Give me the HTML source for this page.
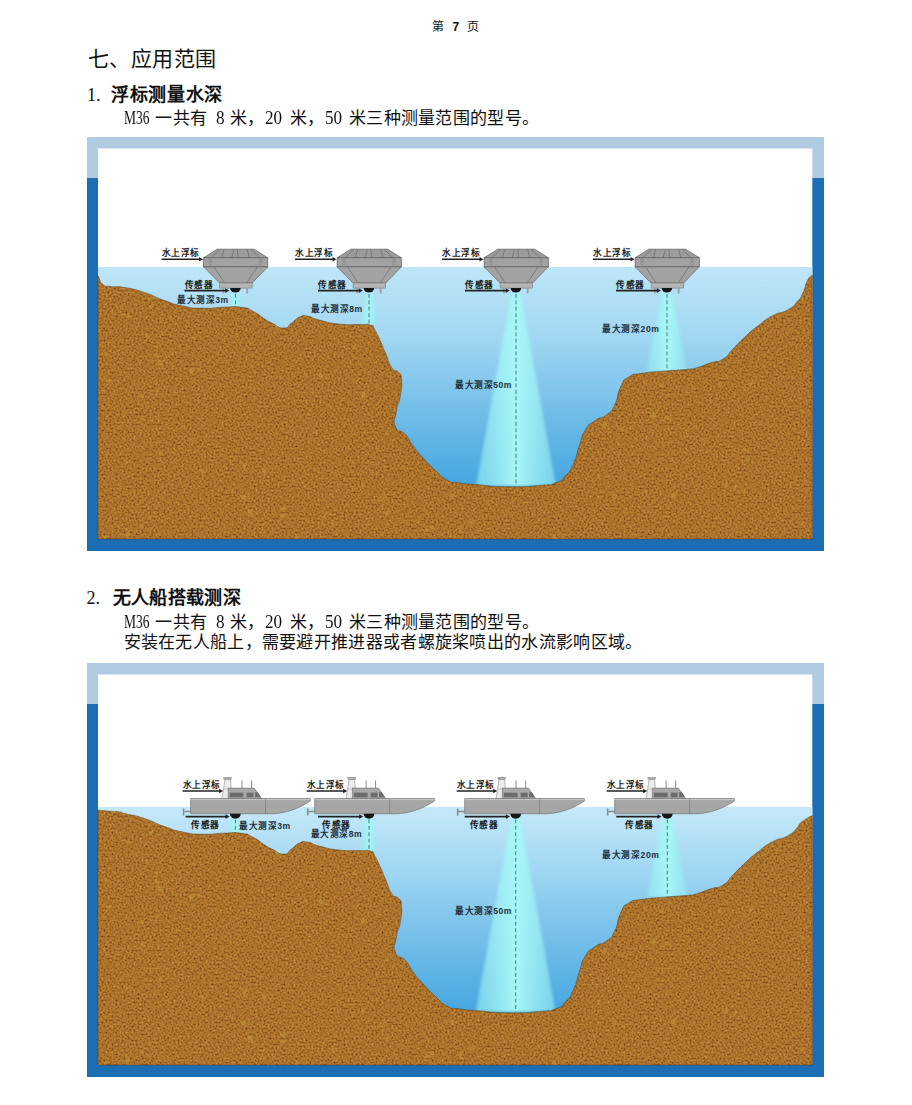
<!DOCTYPE html>
<html lang="zh-CN">
<head>
<meta charset="utf-8">
<style>
html,body{margin:0;padding:0;background:#fff;}
body{width:912px;height:1105px;position:relative;overflow:hidden;font-family:"Liberation Serif",serif;color:#111;}
.t{position:absolute;white-space:nowrap;line-height:1;}
svg{position:absolute;left:0;top:0;}
svg text{font-family:"Liberation Sans",sans-serif;}
</style>
</head>
<body>
<div class="t" style="left:431.5px;top:20.5px;font-size:12px;font-weight:normal;">第</div>
<div class="t" style="left:452.5px;top:20.5px;font-size:12px;font-weight:bold;font-family:'Liberation Sans',sans-serif;">7</div>
<div class="t" style="left:467px;top:20.5px;font-size:12px;font-weight:normal;">页</div>
<div class="t" style="left:87.5px;top:49px;font-size:21px;font-weight:normal;letter-spacing:0.6px;">七、应用范围</div>
<div class="t" style="left:87px;top:86px;font-size:18px;font-weight:normal;">1.</div>
<div class="t" style="left:111px;top:86px;font-size:18px;font-weight:bold;letter-spacing:0.7px;">浮标测量水深</div>
<div class="t" style="left:123.5px;top:108.4px;font-size:19px;transform:scaleX(0.71);transform-origin:0 0;">M36</div>
<div class="t" style="left:215.5px;top:108.4px;font-size:19px;transform:scaleX(0.9);transform-origin:0 0;">8</div>
<div class="t" style="left:265px;top:108.4px;font-size:19px;transform:scaleX(0.9);transform-origin:0 0;">20</div>
<div class="t" style="left:325px;top:108.4px;font-size:19px;transform:scaleX(0.9);transform-origin:0 0;">50</div>
<div class="t" style="left:155.3px;top:110px;font-size:17px;font-weight:normal;letter-spacing:0.3px;">一共有</div>
<div class="t" style="left:229.7px;top:110px;font-size:17px;font-weight:normal;letter-spacing:0.3px;">米，</div>
<div class="t" style="left:289.6px;top:110px;font-size:17px;font-weight:normal;letter-spacing:0.3px;">米，</div>
<div class="t" style="left:349px;top:110px;font-size:17px;font-weight:normal;letter-spacing:0.3px;">米三种测量范围的型号。</div>
<div class="t" style="left:86.5px;top:589px;font-size:18px;font-weight:normal;">2.</div>
<div class="t" style="left:112.5px;top:589px;font-size:18px;font-weight:bold;letter-spacing:0.4px;">无人船搭载测深</div>
<div class="t" style="left:123.5px;top:611.9px;font-size:19px;transform:scaleX(0.71);transform-origin:0 0;">M36</div>
<div class="t" style="left:215.5px;top:611.9px;font-size:19px;transform:scaleX(0.9);transform-origin:0 0;">8</div>
<div class="t" style="left:265px;top:611.9px;font-size:19px;transform:scaleX(0.9);transform-origin:0 0;">20</div>
<div class="t" style="left:325px;top:611.9px;font-size:19px;transform:scaleX(0.9);transform-origin:0 0;">50</div>
<div class="t" style="left:155.3px;top:613.5px;font-size:17px;font-weight:normal;letter-spacing:0.3px;">一共有</div>
<div class="t" style="left:229.7px;top:613.5px;font-size:17px;font-weight:normal;letter-spacing:0.3px;">米，</div>
<div class="t" style="left:289.6px;top:613.5px;font-size:17px;font-weight:normal;letter-spacing:0.3px;">米，</div>
<div class="t" style="left:349px;top:613.5px;font-size:17px;font-weight:normal;letter-spacing:0.3px;">米三种测量范围的型号。</div>
<div class="t" style="left:123.5px;top:633.5px;font-size:17px;font-weight:normal;letter-spacing:0.3px;">安装在无人船上，需要避开推进器或者螺旋桨喷出的水流影响区域。</div>
<svg width="912" height="1105" viewBox="0 0 912 1105">
<defs>
  <linearGradient id="water1" x1="0" y1="267" x2="0" y2="539" gradientUnits="userSpaceOnUse">
    <stop offset="0" stop-color="#bee6f8"/>
    <stop offset="0.25" stop-color="#a2d7f2"/>
    <stop offset="0.8" stop-color="#45a6df"/>
    <stop offset="1" stop-color="#3a9edb"/>
  </linearGradient>
  <linearGradient id="water2" x1="0" y1="281" x2="0" y2="539" gradientUnits="userSpaceOnUse">
    <stop offset="0" stop-color="#c6e9f9"/>
    <stop offset="0.2" stop-color="#a7daf4"/>
    <stop offset="0.8" stop-color="#45a6df"/>
    <stop offset="1" stop-color="#3a9edb"/>
  </linearGradient>
  <linearGradient id="beamg" x1="0" y1="0" x2="1" y2="0">
    <stop offset="0" stop-color="#96eaf3" stop-opacity="0.6"/>
    <stop offset="0.5" stop-color="#a6f7f6" stop-opacity="1"/>
    <stop offset="1" stop-color="#96eaf3" stop-opacity="0.6"/>
  </linearGradient>
  <filter id="blur" x="-50%" y="-10%" width="200%" height="120%"><feGaussianBlur stdDeviation="1.6"/></filter>
  <filter id="tex" x="0" y="0" width="1" height="1" color-interpolation-filters="sRGB">
    <feTurbulence type="fractalNoise" baseFrequency="0.5" numOctaves="3" seed="7"/>
    <feColorMatrix type="matrix" values="1 0 0 0 0  1 0 0 0 0  1 0 0 0 0  0 0 0 0 1"/>
    
    <feComponentTransfer>
      <feFuncR type="table" tableValues="0.31 0.38 0.51 0.61 0.67 0.72 0.77 0.80 0.80"/>
      <feFuncG type="table" tableValues="0.16 0.20 0.30 0.39 0.45 0.49 0.54 0.57 0.57"/>
      <feFuncB type="table" tableValues="0.05 0.07 0.10 0.14 0.17 0.19 0.22 0.24 0.24"/>
    </feComponentTransfer>
    <feComposite in2="SourceAlpha" operator="in"/>
  </filter>
  <path id="terrain" d="M98.0,276.0 C98.33,276.53 97.37,274.77 99.00,277.60 C100.63,280.43 98.97,281.53 102.90,284.50 C106.83,287.47 103.57,285.50 110.80,286.50 C118.03,287.50 113.43,285.53 124.60,287.50 C135.77,289.47 131.17,288.13 144.30,292.40 C157.43,296.67 150.83,295.70 164.00,300.30 C177.17,304.90 170.63,303.57 183.80,306.20 C196.97,308.83 190.33,307.87 203.50,308.20 C216.67,308.53 210.80,307.53 223.30,307.20 C235.80,306.87 231.13,305.87 241.00,307.20 C250.87,308.53 245.00,307.27 252.90,311.20 C260.80,315.13 258.40,315.07 264.70,319.00 C271.00,322.93 265.47,320.00 271.80,323.00 C278.13,326.00 277.10,328.00 283.70,328.00 C290.30,328.00 286.33,326.63 291.60,323.00 C296.87,319.37 294.23,319.40 299.50,317.10 C304.77,314.80 300.83,315.13 307.40,316.10 C313.97,317.07 308.70,317.37 319.20,320.00 C329.70,322.63 325.73,322.47 338.90,324.00 C352.07,325.53 348.17,324.27 358.70,324.60 C369.23,324.93 365.13,323.23 370.50,325.00 C375.87,326.77 371.73,325.00 374.80,329.90 C377.87,334.80 376.07,331.80 379.70,339.70 C383.33,347.60 381.73,344.37 385.70,353.60 C389.67,362.83 387.33,361.17 391.60,367.40 C395.87,373.63 395.23,368.37 398.50,372.30 C401.77,376.23 400.73,371.63 401.40,379.20 C402.07,386.77 402.13,384.47 400.50,395.00 C398.87,405.53 398.17,400.27 396.50,410.80 C394.83,421.33 392.53,418.70 395.50,426.60 C398.47,434.50 399.47,427.93 405.40,434.50 C411.33,441.07 407.37,438.43 413.30,446.30 C419.23,454.17 415.97,450.20 423.20,458.10 C430.43,466.00 427.13,462.73 435.00,470.00 C442.87,477.27 438.90,475.63 446.80,479.90 C454.70,484.17 448.17,481.17 458.70,482.80 C469.23,484.43 461.97,483.47 478.40,484.80 C494.83,486.13 487.57,486.60 508.00,486.80 C528.43,487.00 523.87,486.73 539.70,485.40 C555.53,484.07 546.93,485.97 555.50,482.80 C564.07,479.63 559.47,482.17 565.40,475.90 C571.33,469.63 568.70,473.87 573.30,464.00 C577.90,454.13 575.27,457.47 579.20,446.30 C583.13,435.13 579.83,439.03 585.10,430.50 C590.37,421.97 587.77,425.97 595.00,420.70 C602.23,415.43 600.23,419.97 606.80,414.70 C613.37,409.43 610.10,414.10 614.70,404.90 C619.30,395.70 616.00,396.33 620.60,387.10 C625.20,377.87 621.23,381.80 628.50,377.20 C635.77,372.60 629.23,375.40 642.40,373.30 C655.57,371.20 652.87,372.23 668.00,370.90 C683.13,369.57 678.67,370.20 687.80,369.30 C696.93,368.40 687.77,370.37 695.40,368.20 C703.03,366.03 701.50,365.87 710.70,362.80 C719.90,359.73 715.33,363.87 723.00,359.00 C730.67,354.13 726.03,355.87 733.70,348.20 C741.37,340.53 738.30,343.13 746.00,336.00 C753.70,328.87 748.10,333.47 756.80,326.80 C765.50,320.13 761.87,321.63 772.10,316.00 C782.33,310.37 779.30,314.50 787.50,309.90 C795.70,305.30 791.60,307.83 796.70,302.20 C801.80,296.57 799.23,300.17 802.80,293.00 C806.37,285.83 804.23,286.60 807.40,280.70 C810.57,274.80 810.67,277.10 812.30,275.30 L812.3,539 L98,539 Z"/>
  <path id="terrain2" d="M98.0,284.3 C101.90,284.60 102.50,284.67 109.70,285.20 C116.90,285.73 114.63,285.13 119.60,285.90 C124.57,286.67 116.37,285.33 124.60,287.50 C132.83,289.67 131.17,288.13 144.30,292.40 C157.43,296.67 150.83,295.70 164.00,300.30 C177.17,304.90 170.63,303.57 183.80,306.20 C196.97,308.83 190.33,307.87 203.50,308.20 C216.67,308.53 210.80,307.53 223.30,307.20 C235.80,306.87 231.13,305.87 241.00,307.20 C250.87,308.53 245.00,307.27 252.90,311.20 C260.80,315.13 258.40,315.07 264.70,319.00 C271.00,322.93 265.47,320.00 271.80,323.00 C278.13,326.00 277.10,328.00 283.70,328.00 C290.30,328.00 286.33,326.63 291.60,323.00 C296.87,319.37 294.23,319.40 299.50,317.10 C304.77,314.80 300.83,315.13 307.40,316.10 C313.97,317.07 308.70,317.37 319.20,320.00 C329.70,322.63 325.73,322.47 338.90,324.00 C352.07,325.53 348.17,324.27 358.70,324.60 C369.23,324.93 365.13,323.23 370.50,325.00 C375.87,326.77 371.73,325.00 374.80,329.90 C377.87,334.80 376.07,331.80 379.70,339.70 C383.33,347.60 381.73,344.37 385.70,353.60 C389.67,362.83 387.33,361.17 391.60,367.40 C395.87,373.63 395.23,368.37 398.50,372.30 C401.77,376.23 400.73,371.63 401.40,379.20 C402.07,386.77 402.13,384.47 400.50,395.00 C398.87,405.53 398.17,400.27 396.50,410.80 C394.83,421.33 392.53,418.70 395.50,426.60 C398.47,434.50 399.47,427.93 405.40,434.50 C411.33,441.07 407.37,438.43 413.30,446.30 C419.23,454.17 415.97,450.20 423.20,458.10 C430.43,466.00 427.13,462.73 435.00,470.00 C442.87,477.27 438.90,475.63 446.80,479.90 C454.70,484.17 448.17,481.17 458.70,482.80 C469.23,484.43 461.97,483.47 478.40,484.80 C494.83,486.13 487.57,486.60 508.00,486.80 C528.43,487.00 523.87,486.73 539.70,485.40 C555.53,484.07 546.93,485.97 555.50,482.80 C564.07,479.63 559.47,482.17 565.40,475.90 C571.33,469.63 568.70,473.87 573.30,464.00 C577.90,454.13 575.27,457.47 579.20,446.30 C583.13,435.13 579.83,439.03 585.10,430.50 C590.37,421.97 587.77,425.97 595.00,420.70 C602.23,415.43 600.23,419.97 606.80,414.70 C613.37,409.43 610.10,414.10 614.70,404.90 C619.30,395.70 616.00,396.33 620.60,387.10 C625.20,377.87 621.23,381.80 628.50,377.20 C635.77,372.60 629.23,375.40 642.40,373.30 C655.57,371.20 652.87,372.23 668.00,370.90 C683.13,369.57 678.67,370.20 687.80,369.30 C696.93,368.40 687.77,370.37 695.40,368.20 C703.03,366.03 701.50,365.87 710.70,362.80 C719.90,359.73 715.33,363.87 723.00,359.00 C730.67,354.13 726.03,355.87 733.70,348.20 C741.37,340.53 738.30,343.13 746.00,336.00 C753.70,328.87 748.10,333.47 756.80,326.80 C765.50,320.13 761.87,321.63 772.10,316.00 C782.33,310.37 779.30,314.50 787.50,309.90 C795.70,305.30 792.53,306.33 796.70,302.20 C800.87,298.07 796.43,300.83 800.00,297.50 C803.57,294.17 803.30,294.83 807.40,292.20 C811.50,289.57 810.67,290.47 812.30,289.60 L812.3,539 L98,539 Z"/>
  <clipPath id="clip_terrain"><use href="#terrain"/></clipPath>
  <clipPath id="clip_terrain2"><use href="#terrain2"/></clipPath>
</defs>
<g id="d1">
  <rect x="87" y="137" width="737" height="414" fill="#1b6db4"/>
  <rect x="87" y="137" width="737" height="41" fill="#b1cce2"/>
  <rect x="98" y="148.5" width="714.3" height="390.5" fill="#fff"/>
  <rect x="98" y="267" width="714.3" height="272" fill="url(#water1)"/>
<polygon points="231.5,293 239.5,293 242.0,308 229.0,308" fill="url(#beamg)" filter="url(#blur)"/><line x1="235.5" y1="294" x2="235.5" y2="308" stroke="#3f6870" stroke-width="0.9" stroke-dasharray="3.8,2.6"/><polygon points="365,293 373,293 377,325 361,325" fill="url(#beamg)" filter="url(#blur)"/><line x1="369" y1="294" x2="369" y2="325" stroke="#3f6870" stroke-width="0.9" stroke-dasharray="3.8,2.6"/><polygon points="511.5,293 520.5,293 556,486 476,486" fill="url(#beamg)" filter="url(#blur)"/><line x1="516" y1="294" x2="516" y2="486" stroke="#3f6870" stroke-width="0.9" stroke-dasharray="3.8,2.6"/><polygon points="662,293 672,293 687,371 647,371" fill="url(#beamg)" filter="url(#blur)"/><line x1="667" y1="294" x2="667" y2="371" stroke="#3f6870" stroke-width="0.9" stroke-dasharray="3.8,2.6"/>  <use href="#terrain" fill="#b07530" filter="url(#tex)"/>
  <g clip-path="url(#clip_terrain)" fill="#c09a3c" fill-opacity="0.55"><ellipse cx="421.0" cy="422.8" rx="3.0" ry="1.7" transform="rotate(91 421.0 422.8)"/><ellipse cx="517.4" cy="323.8" rx="2.1" ry="1.3" transform="rotate(143 517.4 323.8)"/><ellipse cx="165.2" cy="355.1" rx="1.2" ry="0.9" transform="rotate(125 165.2 355.1)"/><ellipse cx="127.9" cy="534.3" rx="3.1" ry="2.0" transform="rotate(111 127.9 534.3)"/><ellipse cx="210.5" cy="279.0" rx="2.2" ry="0.8" transform="rotate(34 210.5 279.0)"/><ellipse cx="270.7" cy="282.9" rx="2.0" ry="1.1" transform="rotate(152 270.7 282.9)"/><ellipse cx="468.7" cy="444.0" rx="2.1" ry="1.4" transform="rotate(82 468.7 444.0)"/><ellipse cx="296.6" cy="538.4" rx="3.2" ry="2.3" transform="rotate(127 296.6 538.4)"/><ellipse cx="323.1" cy="335.6" rx="1.6" ry="0.6" transform="rotate(138 323.1 335.6)"/><ellipse cx="383.9" cy="498.5" rx="1.9" ry="1.4" transform="rotate(153 383.9 498.5)"/><ellipse cx="98.4" cy="330.4" rx="3.0" ry="1.7" transform="rotate(176 98.4 330.4)"/><ellipse cx="381.8" cy="294.3" rx="2.4" ry="1.7" transform="rotate(49 381.8 294.3)"/><ellipse cx="160.2" cy="362.8" rx="3.1" ry="2.2" transform="rotate(21 160.2 362.8)"/><ellipse cx="273.9" cy="301.7" rx="1.1" ry="0.8" transform="rotate(32 273.9 301.7)"/><ellipse cx="497.3" cy="393.1" rx="1.4" ry="1.0" transform="rotate(24 497.3 393.1)"/><ellipse cx="557.6" cy="305.8" rx="1.9" ry="0.9" transform="rotate(49 557.6 305.8)"/><ellipse cx="791.2" cy="487.1" rx="1.7" ry="1.2" transform="rotate(38 791.2 487.1)"/><ellipse cx="379.5" cy="500.6" rx="2.4" ry="1.0" transform="rotate(178 379.5 500.6)"/><ellipse cx="250.3" cy="343.2" rx="2.7" ry="1.3" transform="rotate(53 250.3 343.2)"/><ellipse cx="150.4" cy="298.8" rx="2.3" ry="1.0" transform="rotate(108 150.4 298.8)"/><ellipse cx="363.4" cy="394.6" rx="3.1" ry="1.8" transform="rotate(103 363.4 394.6)"/><ellipse cx="716.7" cy="323.3" rx="1.3" ry="1.0" transform="rotate(147 716.7 323.3)"/><ellipse cx="276.1" cy="325.1" rx="2.6" ry="2.0" transform="rotate(35 276.1 325.1)"/><ellipse cx="776.4" cy="507.9" rx="2.3" ry="1.3" transform="rotate(19 776.4 507.9)"/><ellipse cx="125.6" cy="529.1" rx="1.5" ry="1.0" transform="rotate(46 125.6 529.1)"/><ellipse cx="686.1" cy="432.5" rx="1.6" ry="0.7" transform="rotate(130 686.1 432.5)"/><ellipse cx="147.1" cy="335.3" rx="2.2" ry="1.6" transform="rotate(111 147.1 335.3)"/><ellipse cx="298.1" cy="517.2" rx="1.4" ry="0.5" transform="rotate(48 298.1 517.2)"/><ellipse cx="416.2" cy="291.0" rx="1.4" ry="0.7" transform="rotate(103 416.2 291.0)"/><ellipse cx="191.9" cy="370.6" rx="3.0" ry="2.3" transform="rotate(118 191.9 370.6)"/><ellipse cx="591.5" cy="429.3" rx="1.3" ry="0.5" transform="rotate(3 591.5 429.3)"/><ellipse cx="747.9" cy="460.1" rx="3.1" ry="1.1" transform="rotate(115 747.9 460.1)"/><ellipse cx="442.3" cy="467.9" rx="1.7" ry="1.4" transform="rotate(14 442.3 467.9)"/><ellipse cx="487.9" cy="469.6" rx="3.0" ry="2.0" transform="rotate(127 487.9 469.6)"/><ellipse cx="664.4" cy="516.6" rx="1.8" ry="1.2" transform="rotate(162 664.4 516.6)"/><ellipse cx="720.0" cy="385.1" rx="2.7" ry="2.0" transform="rotate(103 720.0 385.1)"/><ellipse cx="544.2" cy="375.9" rx="2.3" ry="1.4" transform="rotate(14 544.2 375.9)"/><ellipse cx="554.5" cy="537.2" rx="2.9" ry="2.0" transform="rotate(70 554.5 537.2)"/><ellipse cx="622.8" cy="428.4" rx="2.0" ry="1.4" transform="rotate(15 622.8 428.4)"/><ellipse cx="633.7" cy="282.9" rx="2.3" ry="1.3" transform="rotate(41 633.7 282.9)"/><ellipse cx="596.6" cy="406.3" rx="2.4" ry="1.8" transform="rotate(46 596.6 406.3)"/><ellipse cx="106.1" cy="354.5" rx="2.5" ry="1.1" transform="rotate(31 106.1 354.5)"/><ellipse cx="744.7" cy="449.2" rx="2.0" ry="1.5" transform="rotate(59 744.7 449.2)"/><ellipse cx="573.5" cy="327.4" rx="1.9" ry="1.4" transform="rotate(165 573.5 327.4)"/><ellipse cx="726.5" cy="376.5" rx="2.3" ry="1.1" transform="rotate(25 726.5 376.5)"/><ellipse cx="452.5" cy="496.0" rx="2.9" ry="1.9" transform="rotate(171 452.5 496.0)"/><ellipse cx="295.6" cy="319.7" rx="2.0" ry="0.9" transform="rotate(39 295.6 319.7)"/><ellipse cx="393.6" cy="440.2" rx="2.1" ry="1.0" transform="rotate(151 393.6 440.2)"/><ellipse cx="799.2" cy="394.5" rx="1.2" ry="0.4" transform="rotate(157 799.2 394.5)"/><ellipse cx="127.6" cy="462.1" rx="2.3" ry="1.1" transform="rotate(142 127.6 462.1)"/><ellipse cx="111.6" cy="310.9" rx="2.0" ry="0.7" transform="rotate(149 111.6 310.9)"/><ellipse cx="267.5" cy="312.2" rx="1.1" ry="0.7" transform="rotate(80 267.5 312.2)"/><ellipse cx="547.8" cy="447.9" rx="2.8" ry="2.2" transform="rotate(123 547.8 447.9)"/><ellipse cx="240.3" cy="400.4" rx="1.4" ry="0.5" transform="rotate(85 240.3 400.4)"/><ellipse cx="607.9" cy="322.3" rx="1.6" ry="0.8" transform="rotate(126 607.9 322.3)"/><ellipse cx="469.6" cy="437.2" rx="2.7" ry="1.4" transform="rotate(143 469.6 437.2)"/><ellipse cx="745.1" cy="298.0" rx="3.1" ry="2.1" transform="rotate(23 745.1 298.0)"/><ellipse cx="421.8" cy="440.1" rx="3.0" ry="1.6" transform="rotate(102 421.8 440.1)"/><ellipse cx="725.8" cy="485.3" rx="3.1" ry="1.7" transform="rotate(117 725.8 485.3)"/><ellipse cx="244.3" cy="465.6" rx="2.8" ry="1.8" transform="rotate(129 244.3 465.6)"/><ellipse cx="250.3" cy="512.6" rx="3.2" ry="2.5" transform="rotate(97 250.3 512.6)"/><ellipse cx="662.6" cy="359.6" rx="3.0" ry="2.2" transform="rotate(63 662.6 359.6)"/><ellipse cx="157.1" cy="391.4" rx="2.2" ry="1.5" transform="rotate(88 157.1 391.4)"/><ellipse cx="118.3" cy="488.6" rx="1.1" ry="0.8" transform="rotate(31 118.3 488.6)"/><ellipse cx="337.2" cy="483.0" rx="1.3" ry="0.5" transform="rotate(93 337.2 483.0)"/><ellipse cx="614.6" cy="496.8" rx="2.5" ry="2.0" transform="rotate(89 614.6 496.8)"/><ellipse cx="775.7" cy="297.7" rx="1.5" ry="0.9" transform="rotate(52 775.7 297.7)"/><ellipse cx="618.4" cy="443.7" rx="2.2" ry="1.6" transform="rotate(101 618.4 443.7)"/><ellipse cx="320.6" cy="375.6" rx="2.9" ry="2.2" transform="rotate(37 320.6 375.6)"/><ellipse cx="705.5" cy="530.7" rx="2.2" ry="1.3" transform="rotate(36 705.5 530.7)"/><ellipse cx="480.6" cy="407.8" rx="2.3" ry="0.8" transform="rotate(174 480.6 407.8)"/><ellipse cx="466.4" cy="380.8" rx="2.8" ry="1.7" transform="rotate(88 466.4 380.8)"/><ellipse cx="591.4" cy="292.4" rx="2.2" ry="1.2" transform="rotate(172 591.4 292.4)"/><ellipse cx="757.3" cy="346.1" rx="2.0" ry="0.8" transform="rotate(78 757.3 346.1)"/><ellipse cx="680.4" cy="512.7" rx="2.0" ry="1.0" transform="rotate(34 680.4 512.7)"/><ellipse cx="539.2" cy="519.3" rx="1.3" ry="0.9" transform="rotate(4 539.2 519.3)"/><ellipse cx="236.6" cy="335.0" rx="2.5" ry="1.2" transform="rotate(64 236.6 335.0)"/><ellipse cx="540.5" cy="302.7" rx="2.6" ry="1.1" transform="rotate(92 540.5 302.7)"/><ellipse cx="276.9" cy="327.2" rx="2.2" ry="1.2" transform="rotate(68 276.9 327.2)"/><ellipse cx="393.2" cy="414.7" rx="1.4" ry="0.6" transform="rotate(114 393.2 414.7)"/><ellipse cx="553.9" cy="414.8" rx="2.9" ry="1.8" transform="rotate(154 553.9 414.8)"/><ellipse cx="264.1" cy="470.6" rx="2.8" ry="2.1" transform="rotate(57 264.1 470.6)"/><ellipse cx="322.9" cy="518.6" rx="1.5" ry="1.2" transform="rotate(160 322.9 518.6)"/><ellipse cx="193.6" cy="338.2" rx="2.6" ry="1.2" transform="rotate(17 193.6 338.2)"/><ellipse cx="692.2" cy="386.3" rx="2.7" ry="1.1" transform="rotate(73 692.2 386.3)"/><ellipse cx="587.2" cy="279.7" rx="1.4" ry="0.9" transform="rotate(164 587.2 279.7)"/><ellipse cx="789.4" cy="305.5" rx="2.1" ry="1.5" transform="rotate(91 789.4 305.5)"/><ellipse cx="587.6" cy="324.9" rx="1.2" ry="0.5" transform="rotate(7 587.6 324.9)"/><ellipse cx="491.9" cy="410.9" rx="2.3" ry="0.9" transform="rotate(33 491.9 410.9)"/><ellipse cx="243.6" cy="496.8" rx="3.2" ry="2.4" transform="rotate(17 243.6 496.8)"/><ellipse cx="142.2" cy="526.2" rx="2.0" ry="1.4" transform="rotate(59 142.2 526.2)"/><ellipse cx="431.4" cy="411.0" rx="1.9" ry="1.2" transform="rotate(2 431.4 411.0)"/><ellipse cx="598.5" cy="497.9" rx="1.4" ry="0.8" transform="rotate(133 598.5 497.9)"/><ellipse cx="387.4" cy="326.5" rx="1.4" ry="0.8" transform="rotate(3 387.4 326.5)"/><ellipse cx="735.7" cy="486.7" rx="2.6" ry="1.9" transform="rotate(113 735.7 486.7)"/><ellipse cx="386.8" cy="433.3" rx="2.1" ry="1.7" transform="rotate(145 386.8 433.3)"/><ellipse cx="282.4" cy="515.6" rx="2.6" ry="1.8" transform="rotate(147 282.4 515.6)"/><ellipse cx="387.6" cy="511.7" rx="2.9" ry="1.9" transform="rotate(138 387.6 511.7)"/><ellipse cx="644.4" cy="382.1" rx="2.6" ry="1.0" transform="rotate(62 644.4 382.1)"/><ellipse cx="432.8" cy="277.8" rx="1.8" ry="1.1" transform="rotate(112 432.8 277.8)"/><ellipse cx="263.7" cy="524.4" rx="2.5" ry="1.2" transform="rotate(119 263.7 524.4)"/><ellipse cx="504.7" cy="415.7" rx="1.9" ry="1.5" transform="rotate(116 504.7 415.7)"/><ellipse cx="598.7" cy="476.1" rx="3.2" ry="1.1" transform="rotate(111 598.7 476.1)"/><ellipse cx="625.5" cy="342.8" rx="1.9" ry="0.7" transform="rotate(35 625.5 342.8)"/><ellipse cx="366.2" cy="301.0" rx="1.6" ry="1.2" transform="rotate(99 366.2 301.0)"/><ellipse cx="460.6" cy="530.3" rx="2.2" ry="1.8" transform="rotate(115 460.6 530.3)"/><ellipse cx="676.0" cy="295.1" rx="2.3" ry="1.6" transform="rotate(8 676.0 295.1)"/><ellipse cx="762.1" cy="317.2" rx="2.0" ry="0.9" transform="rotate(89 762.1 317.2)"/><ellipse cx="534.4" cy="290.5" rx="3.1" ry="1.7" transform="rotate(95 534.4 290.5)"/><ellipse cx="524.9" cy="371.5" rx="1.6" ry="1.1" transform="rotate(101 524.9 371.5)"/><ellipse cx="300.4" cy="464.2" rx="1.7" ry="0.6" transform="rotate(44 300.4 464.2)"/><ellipse cx="128.5" cy="316.3" rx="2.7" ry="1.4" transform="rotate(162 128.5 316.3)"/><ellipse cx="632.3" cy="288.2" rx="3.2" ry="2.5" transform="rotate(13 632.3 288.2)"/><ellipse cx="744.6" cy="388.4" rx="2.1" ry="1.6" transform="rotate(44 744.6 388.4)"/><ellipse cx="471.7" cy="522.4" rx="2.6" ry="1.5" transform="rotate(176 471.7 522.4)"/><ellipse cx="681.1" cy="434.4" rx="1.3" ry="0.8" transform="rotate(82 681.1 434.4)"/><ellipse cx="243.4" cy="288.7" rx="2.2" ry="0.9" transform="rotate(80 243.4 288.7)"/><ellipse cx="574.9" cy="395.3" rx="1.6" ry="1.0" transform="rotate(76 574.9 395.3)"/><ellipse cx="653.5" cy="415.1" rx="3.2" ry="2.5" transform="rotate(132 653.5 415.1)"/><ellipse cx="268.2" cy="305.1" rx="3.0" ry="2.1" transform="rotate(112 268.2 305.1)"/><ellipse cx="354.5" cy="346.7" rx="2.5" ry="1.5" transform="rotate(107 354.5 346.7)"/><ellipse cx="550.0" cy="473.9" rx="1.4" ry="0.7" transform="rotate(176 550.0 473.9)"/><ellipse cx="751.8" cy="507.0" rx="1.1" ry="0.4" transform="rotate(49 751.8 507.0)"/><ellipse cx="401.6" cy="439.6" rx="1.2" ry="0.7" transform="rotate(13 401.6 439.6)"/><ellipse cx="159.7" cy="453.5" rx="2.2" ry="1.4" transform="rotate(67 159.7 453.5)"/><ellipse cx="439.7" cy="330.6" rx="1.8" ry="1.2" transform="rotate(151 439.7 330.6)"/><ellipse cx="151.1" cy="306.6" rx="2.8" ry="1.8" transform="rotate(138 151.1 306.6)"/><ellipse cx="250.2" cy="387.0" rx="1.6" ry="1.1" transform="rotate(66 250.2 387.0)"/><ellipse cx="564.7" cy="536.1" rx="1.7" ry="1.0" transform="rotate(134 564.7 536.1)"/><ellipse cx="755.5" cy="387.9" rx="1.8" ry="0.7" transform="rotate(158 755.5 387.9)"/><ellipse cx="154.1" cy="296.9" rx="2.2" ry="1.3" transform="rotate(123 154.1 296.9)"/><ellipse cx="311.4" cy="479.7" rx="1.2" ry="0.5" transform="rotate(119 311.4 479.7)"/><ellipse cx="156.3" cy="355.2" rx="2.6" ry="1.7" transform="rotate(51 156.3 355.2)"/><ellipse cx="200.0" cy="369.5" rx="2.6" ry="1.3" transform="rotate(21 200.0 369.5)"/><ellipse cx="604.4" cy="425.3" rx="3.0" ry="2.3" transform="rotate(164 604.4 425.3)"/><ellipse cx="410.7" cy="487.0" rx="1.7" ry="0.8" transform="rotate(72 410.7 487.0)"/><ellipse cx="765.4" cy="511.2" rx="1.5" ry="0.8" transform="rotate(66 765.4 511.2)"/><ellipse cx="357.4" cy="379.4" rx="1.9" ry="0.8" transform="rotate(101 357.4 379.4)"/><ellipse cx="667.1" cy="417.7" rx="2.8" ry="1.7" transform="rotate(32 667.1 417.7)"/><ellipse cx="639.9" cy="507.6" rx="1.6" ry="0.6" transform="rotate(93 639.9 507.6)"/><ellipse cx="486.5" cy="424.8" rx="3.1" ry="2.0" transform="rotate(145 486.5 424.8)"/><ellipse cx="143.7" cy="419.4" rx="2.7" ry="1.1" transform="rotate(15 143.7 419.4)"/><ellipse cx="624.3" cy="512.4" rx="1.2" ry="0.8" transform="rotate(26 624.3 512.4)"/><ellipse cx="630.5" cy="446.3" rx="1.5" ry="0.7" transform="rotate(138 630.5 446.3)"/><ellipse cx="470.4" cy="476.9" rx="1.9" ry="0.9" transform="rotate(174 470.4 476.9)"/><ellipse cx="578.1" cy="405.3" rx="2.2" ry="1.5" transform="rotate(127 578.1 405.3)"/><ellipse cx="751.3" cy="383.4" rx="2.8" ry="1.8" transform="rotate(154 751.3 383.4)"/><ellipse cx="673.4" cy="495.1" rx="3.0" ry="2.3" transform="rotate(115 673.4 495.1)"/><ellipse cx="472.0" cy="462.5" rx="2.8" ry="1.5" transform="rotate(76 472.0 462.5)"/><ellipse cx="202.4" cy="470.7" rx="3.2" ry="1.7" transform="rotate(30 202.4 470.7)"/><ellipse cx="243.9" cy="387.2" rx="1.6" ry="1.3" transform="rotate(11 243.9 387.2)"/><ellipse cx="318.2" cy="305.3" rx="2.4" ry="1.7" transform="rotate(32 318.2 305.3)"/><ellipse cx="142.5" cy="396.1" rx="2.3" ry="1.7" transform="rotate(7 142.5 396.1)"/><ellipse cx="175.6" cy="323.7" rx="1.5" ry="0.7" transform="rotate(129 175.6 323.7)"/><ellipse cx="522.7" cy="334.1" rx="1.4" ry="0.7" transform="rotate(31 522.7 334.1)"/><ellipse cx="638.9" cy="357.3" rx="2.2" ry="1.6" transform="rotate(86 638.9 357.3)"/><ellipse cx="284.0" cy="509.3" rx="3.0" ry="1.5" transform="rotate(99 284.0 509.3)"/><ellipse cx="781.3" cy="402.4" rx="1.5" ry="0.6" transform="rotate(171 781.3 402.4)"/><ellipse cx="670.2" cy="376.6" rx="2.2" ry="1.3" transform="rotate(49 670.2 376.6)"/><ellipse cx="805.0" cy="448.6" rx="1.5" ry="0.5" transform="rotate(85 805.0 448.6)"/><ellipse cx="363.3" cy="485.3" rx="2.6" ry="1.6" transform="rotate(28 363.3 485.3)"/><ellipse cx="210.0" cy="360.0" rx="1.6" ry="1.2" transform="rotate(93 210.0 360.0)"/><ellipse cx="552.8" cy="537.2" rx="1.6" ry="0.9" transform="rotate(27 552.8 537.2)"/><ellipse cx="648.0" cy="275.4" rx="2.8" ry="2.1" transform="rotate(148 648.0 275.4)"/><ellipse cx="156.9" cy="346.3" rx="2.6" ry="1.0" transform="rotate(86 156.9 346.3)"/><ellipse cx="432.6" cy="527.3" rx="2.3" ry="1.7" transform="rotate(55 432.6 527.3)"/><ellipse cx="661.6" cy="385.1" rx="3.0" ry="1.2" transform="rotate(149 661.6 385.1)"/><ellipse cx="246.8" cy="418.5" rx="2.2" ry="0.9" transform="rotate(150 246.8 418.5)"/><ellipse cx="320.3" cy="357.0" rx="1.2" ry="0.6" transform="rotate(84 320.3 357.0)"/><ellipse cx="608.6" cy="370.0" rx="2.5" ry="1.0" transform="rotate(71 608.6 370.0)"/><ellipse cx="427.7" cy="530.3" rx="2.8" ry="1.8" transform="rotate(2 427.7 530.3)"/><ellipse cx="367.3" cy="462.4" rx="1.5" ry="0.9" transform="rotate(82 367.3 462.4)"/><ellipse cx="105.5" cy="536.8" rx="2.8" ry="1.2" transform="rotate(111 105.5 536.8)"/><ellipse cx="305.3" cy="374.3" rx="2.2" ry="1.1" transform="rotate(61 305.3 374.3)"/><ellipse cx="378.0" cy="451.0" rx="1.6" ry="0.7" transform="rotate(132 378.0 451.0)"/><ellipse cx="333.2" cy="524.5" rx="2.2" ry="1.5" transform="rotate(60 333.2 524.5)"/><ellipse cx="688.4" cy="299.4" rx="1.3" ry="0.5" transform="rotate(122 688.4 299.4)"/><ellipse cx="603.7" cy="322.5" rx="1.9" ry="1.4" transform="rotate(107 603.7 322.5)"/><ellipse cx="162.3" cy="334.8" rx="1.3" ry="0.5" transform="rotate(73 162.3 334.8)"/><ellipse cx="149.9" cy="518.0" rx="1.9" ry="1.1" transform="rotate(117 149.9 518.0)"/><ellipse cx="645.5" cy="491.8" rx="1.8" ry="0.9" transform="rotate(74 645.5 491.8)"/><ellipse cx="109.0" cy="380.8" rx="2.5" ry="2.0" transform="rotate(142 109.0 380.8)"/><ellipse cx="569.4" cy="435.7" rx="1.0" ry="0.5" transform="rotate(62 569.4 435.7)"/><ellipse cx="562.6" cy="303.1" rx="1.8" ry="1.1" transform="rotate(142 562.6 303.1)"/><ellipse cx="687.2" cy="436.4" rx="1.3" ry="0.9" transform="rotate(163 687.2 436.4)"/><ellipse cx="489.5" cy="368.1" rx="2.1" ry="0.9" transform="rotate(128 489.5 368.1)"/><ellipse cx="802.6" cy="411.2" rx="2.6" ry="1.9" transform="rotate(35 802.6 411.2)"/><ellipse cx="772.7" cy="440.6" rx="1.4" ry="0.6" transform="rotate(44 772.7 440.6)"/><ellipse cx="509.6" cy="459.0" rx="1.7" ry="1.3" transform="rotate(65 509.6 459.0)"/><ellipse cx="428.6" cy="307.7" rx="3.1" ry="1.3" transform="rotate(163 428.6 307.7)"/><ellipse cx="486.0" cy="423.0" rx="2.2" ry="1.0" transform="rotate(164 486.0 423.0)"/><ellipse cx="806.4" cy="490.8" rx="2.3" ry="0.9" transform="rotate(148 806.4 490.8)"/><ellipse cx="304.0" cy="511.8" rx="1.5" ry="0.9" transform="rotate(150 304.0 511.8)"/><ellipse cx="230.5" cy="419.6" rx="1.2" ry="0.4" transform="rotate(32 230.5 419.6)"/><ellipse cx="802.7" cy="523.0" rx="2.4" ry="1.2" transform="rotate(121 802.7 523.0)"/><ellipse cx="624.7" cy="375.8" rx="2.3" ry="1.6" transform="rotate(3 624.7 375.8)"/><ellipse cx="240.5" cy="398.6" rx="1.3" ry="0.7" transform="rotate(103 240.5 398.6)"/><ellipse cx="222.0" cy="412.2" rx="1.6" ry="1.0" transform="rotate(60 222.0 412.2)"/><ellipse cx="556.2" cy="285.0" rx="2.5" ry="1.0" transform="rotate(173 556.2 285.0)"/><ellipse cx="526.5" cy="399.1" rx="1.9" ry="1.2" transform="rotate(124 526.5 399.1)"/></g>
  <use href="#terrain" fill="none" stroke="#5e3a12" stroke-width="0.7" stroke-opacity="0.7"/>
<g transform="translate(235.5,0)"><polygon points="-18.3,249.2 18.7,249.2 32.3,257.8 -31.9,257.8" fill="#9c9c9c" stroke="#5e5e5e" stroke-width="0.7"/><line x1="-15.5" y1="249.4" x2="-24" y2="257.8" stroke="#606060" stroke-width="0.6"/><line x1="-11.3" y1="249.4" x2="-13.8" y2="257.8" stroke="#606060" stroke-width="0.6"/><line x1="-1.5" y1="249.4" x2="-3.9" y2="257.8" stroke="#606060" stroke-width="0.6"/><line x1="1.8" y1="249.4" x2="2.7" y2="257.8" stroke="#606060" stroke-width="0.6"/><line x1="11.7" y1="249.4" x2="13.8" y2="257.8" stroke="#606060" stroke-width="0.6"/><line x1="15.5" y1="249.4" x2="24" y2="257.8" stroke="#606060" stroke-width="0.6"/><rect x="-31.9" y="257.8" width="64.2" height="9.0" fill="#a2a2a2" stroke="#5e5e5e" stroke-width="0.7"/><circle cx="-25" cy="260" r="1.4" fill="none" stroke="#7a7a7a" stroke-width="0.5"/><circle cx="-25" cy="263.4" r="1.4" fill="none" stroke="#7a7a7a" stroke-width="0.5"/><circle cx="25" cy="260" r="1.4" fill="none" stroke="#7a7a7a" stroke-width="0.5"/><circle cx="25" cy="263.4" r="1.4" fill="none" stroke="#7a7a7a" stroke-width="0.5"/><polygon points="-31.9,266.8 32.3,266.8 16.6,283 -15.9,283" fill="#a3a3a3" stroke="#5e5e5e" stroke-width="0.7"/><line x1="-21.5" y1="266.8" x2="-10.8" y2="283" stroke="#606060" stroke-width="0.6"/><line x1="22" y1="266.8" x2="11.2" y2="283" stroke="#606060" stroke-width="0.6"/><rect x="-15.9" y="283" width="32.5" height="5.1" fill="#b5b5b5" stroke="#7a7a7a" stroke-width="0.6"/><rect x="-13" y="288" width="1.8" height="5.4" fill="#a0a0a0"/><rect x="10.8" y="288" width="1.8" height="5.4" fill="#a0a0a0"/><path d="M-5.4,288 L5.2,288 A5.3,4.6 0 0 1 -5.4,288 Z" fill="#151515"/></g><text x="161.5" y="256.0" font-size="8.6" font-weight="bold" fill="#1c1c1c" letter-spacing="0.55">水上浮标</text><line x1="161.5" y1="259.2" x2="200.0" y2="259.2" stroke="#222" stroke-width="1.6"/><polygon points="199.0,256.9 203.0,259.2 199.0,261.5" fill="#222"/><text x="184.5" y="288.2" font-size="8.6" font-weight="bold" fill="#1c1c1c" letter-spacing="0.55">传感器</text><line x1="184.5" y1="290.6" x2="226.3" y2="290.6" stroke="#222" stroke-width="1.6"/><polygon points="225.3,288.3 229.3,290.6 225.3,292.90000000000003" fill="#222"/><g transform="translate(369,0)"><polygon points="-18.3,249.2 18.7,249.2 32.3,257.8 -31.9,257.8" fill="#9c9c9c" stroke="#5e5e5e" stroke-width="0.7"/><line x1="-15.5" y1="249.4" x2="-24" y2="257.8" stroke="#606060" stroke-width="0.6"/><line x1="-11.3" y1="249.4" x2="-13.8" y2="257.8" stroke="#606060" stroke-width="0.6"/><line x1="-1.5" y1="249.4" x2="-3.9" y2="257.8" stroke="#606060" stroke-width="0.6"/><line x1="1.8" y1="249.4" x2="2.7" y2="257.8" stroke="#606060" stroke-width="0.6"/><line x1="11.7" y1="249.4" x2="13.8" y2="257.8" stroke="#606060" stroke-width="0.6"/><line x1="15.5" y1="249.4" x2="24" y2="257.8" stroke="#606060" stroke-width="0.6"/><rect x="-31.9" y="257.8" width="64.2" height="9.0" fill="#a2a2a2" stroke="#5e5e5e" stroke-width="0.7"/><circle cx="-25" cy="260" r="1.4" fill="none" stroke="#7a7a7a" stroke-width="0.5"/><circle cx="-25" cy="263.4" r="1.4" fill="none" stroke="#7a7a7a" stroke-width="0.5"/><circle cx="25" cy="260" r="1.4" fill="none" stroke="#7a7a7a" stroke-width="0.5"/><circle cx="25" cy="263.4" r="1.4" fill="none" stroke="#7a7a7a" stroke-width="0.5"/><polygon points="-31.9,266.8 32.3,266.8 16.6,283 -15.9,283" fill="#a3a3a3" stroke="#5e5e5e" stroke-width="0.7"/><line x1="-21.5" y1="266.8" x2="-10.8" y2="283" stroke="#606060" stroke-width="0.6"/><line x1="22" y1="266.8" x2="11.2" y2="283" stroke="#606060" stroke-width="0.6"/><rect x="-15.9" y="283" width="32.5" height="5.1" fill="#b5b5b5" stroke="#7a7a7a" stroke-width="0.6"/><rect x="-13" y="288" width="1.8" height="5.4" fill="#a0a0a0"/><rect x="10.8" y="288" width="1.8" height="5.4" fill="#a0a0a0"/><path d="M-5.4,288 L5.2,288 A5.3,4.6 0 0 1 -5.4,288 Z" fill="#151515"/></g><text x="295" y="256.0" font-size="8.6" font-weight="bold" fill="#1c1c1c" letter-spacing="0.55">水上浮标</text><line x1="295" y1="259.2" x2="333.5" y2="259.2" stroke="#222" stroke-width="1.6"/><polygon points="332.5,256.9 336.5,259.2 332.5,261.5" fill="#222"/><text x="318" y="288.2" font-size="8.6" font-weight="bold" fill="#1c1c1c" letter-spacing="0.55">传感器</text><line x1="318" y1="290.6" x2="359.8" y2="290.6" stroke="#222" stroke-width="1.6"/><polygon points="358.8,288.3 362.8,290.6 358.8,292.90000000000003" fill="#222"/><g transform="translate(516,0)"><polygon points="-18.3,249.2 18.7,249.2 32.3,257.8 -31.9,257.8" fill="#9c9c9c" stroke="#5e5e5e" stroke-width="0.7"/><line x1="-15.5" y1="249.4" x2="-24" y2="257.8" stroke="#606060" stroke-width="0.6"/><line x1="-11.3" y1="249.4" x2="-13.8" y2="257.8" stroke="#606060" stroke-width="0.6"/><line x1="-1.5" y1="249.4" x2="-3.9" y2="257.8" stroke="#606060" stroke-width="0.6"/><line x1="1.8" y1="249.4" x2="2.7" y2="257.8" stroke="#606060" stroke-width="0.6"/><line x1="11.7" y1="249.4" x2="13.8" y2="257.8" stroke="#606060" stroke-width="0.6"/><line x1="15.5" y1="249.4" x2="24" y2="257.8" stroke="#606060" stroke-width="0.6"/><rect x="-31.9" y="257.8" width="64.2" height="9.0" fill="#a2a2a2" stroke="#5e5e5e" stroke-width="0.7"/><circle cx="-25" cy="260" r="1.4" fill="none" stroke="#7a7a7a" stroke-width="0.5"/><circle cx="-25" cy="263.4" r="1.4" fill="none" stroke="#7a7a7a" stroke-width="0.5"/><circle cx="25" cy="260" r="1.4" fill="none" stroke="#7a7a7a" stroke-width="0.5"/><circle cx="25" cy="263.4" r="1.4" fill="none" stroke="#7a7a7a" stroke-width="0.5"/><polygon points="-31.9,266.8 32.3,266.8 16.6,283 -15.9,283" fill="#a3a3a3" stroke="#5e5e5e" stroke-width="0.7"/><line x1="-21.5" y1="266.8" x2="-10.8" y2="283" stroke="#606060" stroke-width="0.6"/><line x1="22" y1="266.8" x2="11.2" y2="283" stroke="#606060" stroke-width="0.6"/><rect x="-15.9" y="283" width="32.5" height="5.1" fill="#b5b5b5" stroke="#7a7a7a" stroke-width="0.6"/><rect x="-13" y="288" width="1.8" height="5.4" fill="#a0a0a0"/><rect x="10.8" y="288" width="1.8" height="5.4" fill="#a0a0a0"/><path d="M-5.4,288 L5.2,288 A5.3,4.6 0 0 1 -5.4,288 Z" fill="#151515"/></g><text x="442" y="256.0" font-size="8.6" font-weight="bold" fill="#1c1c1c" letter-spacing="0.55">水上浮标</text><line x1="442" y1="259.2" x2="480.5" y2="259.2" stroke="#222" stroke-width="1.6"/><polygon points="479.5,256.9 483.5,259.2 479.5,261.5" fill="#222"/><text x="465" y="288.2" font-size="8.6" font-weight="bold" fill="#1c1c1c" letter-spacing="0.55">传感器</text><line x1="465" y1="290.6" x2="506.8" y2="290.6" stroke="#222" stroke-width="1.6"/><polygon points="505.8,288.3 509.8,290.6 505.8,292.90000000000003" fill="#222"/><g transform="translate(667,0)"><polygon points="-18.3,249.2 18.7,249.2 32.3,257.8 -31.9,257.8" fill="#9c9c9c" stroke="#5e5e5e" stroke-width="0.7"/><line x1="-15.5" y1="249.4" x2="-24" y2="257.8" stroke="#606060" stroke-width="0.6"/><line x1="-11.3" y1="249.4" x2="-13.8" y2="257.8" stroke="#606060" stroke-width="0.6"/><line x1="-1.5" y1="249.4" x2="-3.9" y2="257.8" stroke="#606060" stroke-width="0.6"/><line x1="1.8" y1="249.4" x2="2.7" y2="257.8" stroke="#606060" stroke-width="0.6"/><line x1="11.7" y1="249.4" x2="13.8" y2="257.8" stroke="#606060" stroke-width="0.6"/><line x1="15.5" y1="249.4" x2="24" y2="257.8" stroke="#606060" stroke-width="0.6"/><rect x="-31.9" y="257.8" width="64.2" height="9.0" fill="#a2a2a2" stroke="#5e5e5e" stroke-width="0.7"/><circle cx="-25" cy="260" r="1.4" fill="none" stroke="#7a7a7a" stroke-width="0.5"/><circle cx="-25" cy="263.4" r="1.4" fill="none" stroke="#7a7a7a" stroke-width="0.5"/><circle cx="25" cy="260" r="1.4" fill="none" stroke="#7a7a7a" stroke-width="0.5"/><circle cx="25" cy="263.4" r="1.4" fill="none" stroke="#7a7a7a" stroke-width="0.5"/><polygon points="-31.9,266.8 32.3,266.8 16.6,283 -15.9,283" fill="#a3a3a3" stroke="#5e5e5e" stroke-width="0.7"/><line x1="-21.5" y1="266.8" x2="-10.8" y2="283" stroke="#606060" stroke-width="0.6"/><line x1="22" y1="266.8" x2="11.2" y2="283" stroke="#606060" stroke-width="0.6"/><rect x="-15.9" y="283" width="32.5" height="5.1" fill="#b5b5b5" stroke="#7a7a7a" stroke-width="0.6"/><rect x="-13" y="288" width="1.8" height="5.4" fill="#a0a0a0"/><rect x="10.8" y="288" width="1.8" height="5.4" fill="#a0a0a0"/><path d="M-5.4,288 L5.2,288 A5.3,4.6 0 0 1 -5.4,288 Z" fill="#151515"/></g><text x="593" y="256.0" font-size="8.6" font-weight="bold" fill="#1c1c1c" letter-spacing="0.55">水上浮标</text><line x1="593" y1="259.2" x2="631.5" y2="259.2" stroke="#222" stroke-width="1.6"/><polygon points="630.5,256.9 634.5,259.2 630.5,261.5" fill="#222"/><text x="616" y="288.2" font-size="8.6" font-weight="bold" fill="#1c1c1c" letter-spacing="0.55">传感器</text><line x1="616" y1="290.6" x2="657.8" y2="290.6" stroke="#222" stroke-width="1.6"/><polygon points="656.8,288.3 660.8,290.6 656.8,292.90000000000003" fill="#222"/><text x="177" y="303.2" font-size="8.6" font-weight="bold" fill="#24313b" letter-spacing="0.55">最大测深3m</text><text x="311" y="312" font-size="8.6" font-weight="bold" fill="#24313b" letter-spacing="0.55">最大测深8m</text><text x="455" y="388" font-size="8.6" font-weight="bold" fill="#24313b" letter-spacing="0.55">最大测深50m</text><text x="602.4" y="331.5" font-size="8.6" font-weight="bold" fill="#24313b" letter-spacing="0.55">最大测深20m</text></g>
<g transform="translate(0,526)">
  <rect x="87" y="137" width="737" height="414" fill="#1b6db4"/>
  <rect x="87" y="137" width="737" height="41" fill="#b1cce2"/>
  <rect x="98" y="148.5" width="714.3" height="390.5" fill="#fff"/>
  <rect x="98" y="281" width="714.3" height="258" fill="url(#water2)"/>
<polygon points="231.4,292.5 239.4,292.5 241.9,308 228.9,308" fill="url(#beamg)" filter="url(#blur)"/><line x1="235.4" y1="293.5" x2="235.4" y2="308" stroke="#3f6870" stroke-width="0.9" stroke-dasharray="3.8,2.6"/><polygon points="365,292.5 373,292.5 377,325 361,325" fill="url(#beamg)" filter="url(#blur)"/><line x1="369" y1="293.5" x2="369" y2="325" stroke="#3f6870" stroke-width="0.9" stroke-dasharray="3.8,2.6"/><polygon points="511.20000000000005,292.5 520.2,292.5 555.7,486 475.70000000000005,486" fill="url(#beamg)" filter="url(#blur)"/><line x1="515.7" y1="293.5" x2="515.7" y2="486" stroke="#3f6870" stroke-width="0.9" stroke-dasharray="3.8,2.6"/><polygon points="662.3,292.5 672.3,292.5 687.3,371 647.3,371" fill="url(#beamg)" filter="url(#blur)"/><line x1="667.3" y1="293.5" x2="667.3" y2="371" stroke="#3f6870" stroke-width="0.9" stroke-dasharray="3.8,2.6"/>  <use href="#terrain2" fill="#b07530" filter="url(#tex)"/>
  <g clip-path="url(#clip_terrain2)" fill="#c09a3c" fill-opacity="0.55"><ellipse cx="421.0" cy="422.8" rx="3.0" ry="1.7" transform="rotate(91 421.0 422.8)"/><ellipse cx="517.4" cy="323.8" rx="2.1" ry="1.3" transform="rotate(143 517.4 323.8)"/><ellipse cx="165.2" cy="355.1" rx="1.2" ry="0.9" transform="rotate(125 165.2 355.1)"/><ellipse cx="127.9" cy="534.3" rx="3.1" ry="2.0" transform="rotate(111 127.9 534.3)"/><ellipse cx="210.5" cy="279.0" rx="2.2" ry="0.8" transform="rotate(34 210.5 279.0)"/><ellipse cx="270.7" cy="282.9" rx="2.0" ry="1.1" transform="rotate(152 270.7 282.9)"/><ellipse cx="468.7" cy="444.0" rx="2.1" ry="1.4" transform="rotate(82 468.7 444.0)"/><ellipse cx="296.6" cy="538.4" rx="3.2" ry="2.3" transform="rotate(127 296.6 538.4)"/><ellipse cx="323.1" cy="335.6" rx="1.6" ry="0.6" transform="rotate(138 323.1 335.6)"/><ellipse cx="383.9" cy="498.5" rx="1.9" ry="1.4" transform="rotate(153 383.9 498.5)"/><ellipse cx="98.4" cy="330.4" rx="3.0" ry="1.7" transform="rotate(176 98.4 330.4)"/><ellipse cx="381.8" cy="294.3" rx="2.4" ry="1.7" transform="rotate(49 381.8 294.3)"/><ellipse cx="160.2" cy="362.8" rx="3.1" ry="2.2" transform="rotate(21 160.2 362.8)"/><ellipse cx="273.9" cy="301.7" rx="1.1" ry="0.8" transform="rotate(32 273.9 301.7)"/><ellipse cx="497.3" cy="393.1" rx="1.4" ry="1.0" transform="rotate(24 497.3 393.1)"/><ellipse cx="557.6" cy="305.8" rx="1.9" ry="0.9" transform="rotate(49 557.6 305.8)"/><ellipse cx="791.2" cy="487.1" rx="1.7" ry="1.2" transform="rotate(38 791.2 487.1)"/><ellipse cx="379.5" cy="500.6" rx="2.4" ry="1.0" transform="rotate(178 379.5 500.6)"/><ellipse cx="250.3" cy="343.2" rx="2.7" ry="1.3" transform="rotate(53 250.3 343.2)"/><ellipse cx="150.4" cy="298.8" rx="2.3" ry="1.0" transform="rotate(108 150.4 298.8)"/><ellipse cx="363.4" cy="394.6" rx="3.1" ry="1.8" transform="rotate(103 363.4 394.6)"/><ellipse cx="716.7" cy="323.3" rx="1.3" ry="1.0" transform="rotate(147 716.7 323.3)"/><ellipse cx="276.1" cy="325.1" rx="2.6" ry="2.0" transform="rotate(35 276.1 325.1)"/><ellipse cx="776.4" cy="507.9" rx="2.3" ry="1.3" transform="rotate(19 776.4 507.9)"/><ellipse cx="125.6" cy="529.1" rx="1.5" ry="1.0" transform="rotate(46 125.6 529.1)"/><ellipse cx="686.1" cy="432.5" rx="1.6" ry="0.7" transform="rotate(130 686.1 432.5)"/><ellipse cx="147.1" cy="335.3" rx="2.2" ry="1.6" transform="rotate(111 147.1 335.3)"/><ellipse cx="298.1" cy="517.2" rx="1.4" ry="0.5" transform="rotate(48 298.1 517.2)"/><ellipse cx="416.2" cy="291.0" rx="1.4" ry="0.7" transform="rotate(103 416.2 291.0)"/><ellipse cx="191.9" cy="370.6" rx="3.0" ry="2.3" transform="rotate(118 191.9 370.6)"/><ellipse cx="591.5" cy="429.3" rx="1.3" ry="0.5" transform="rotate(3 591.5 429.3)"/><ellipse cx="747.9" cy="460.1" rx="3.1" ry="1.1" transform="rotate(115 747.9 460.1)"/><ellipse cx="442.3" cy="467.9" rx="1.7" ry="1.4" transform="rotate(14 442.3 467.9)"/><ellipse cx="487.9" cy="469.6" rx="3.0" ry="2.0" transform="rotate(127 487.9 469.6)"/><ellipse cx="664.4" cy="516.6" rx="1.8" ry="1.2" transform="rotate(162 664.4 516.6)"/><ellipse cx="720.0" cy="385.1" rx="2.7" ry="2.0" transform="rotate(103 720.0 385.1)"/><ellipse cx="544.2" cy="375.9" rx="2.3" ry="1.4" transform="rotate(14 544.2 375.9)"/><ellipse cx="554.5" cy="537.2" rx="2.9" ry="2.0" transform="rotate(70 554.5 537.2)"/><ellipse cx="622.8" cy="428.4" rx="2.0" ry="1.4" transform="rotate(15 622.8 428.4)"/><ellipse cx="633.7" cy="282.9" rx="2.3" ry="1.3" transform="rotate(41 633.7 282.9)"/><ellipse cx="596.6" cy="406.3" rx="2.4" ry="1.8" transform="rotate(46 596.6 406.3)"/><ellipse cx="106.1" cy="354.5" rx="2.5" ry="1.1" transform="rotate(31 106.1 354.5)"/><ellipse cx="744.7" cy="449.2" rx="2.0" ry="1.5" transform="rotate(59 744.7 449.2)"/><ellipse cx="573.5" cy="327.4" rx="1.9" ry="1.4" transform="rotate(165 573.5 327.4)"/><ellipse cx="726.5" cy="376.5" rx="2.3" ry="1.1" transform="rotate(25 726.5 376.5)"/><ellipse cx="452.5" cy="496.0" rx="2.9" ry="1.9" transform="rotate(171 452.5 496.0)"/><ellipse cx="295.6" cy="319.7" rx="2.0" ry="0.9" transform="rotate(39 295.6 319.7)"/><ellipse cx="393.6" cy="440.2" rx="2.1" ry="1.0" transform="rotate(151 393.6 440.2)"/><ellipse cx="799.2" cy="394.5" rx="1.2" ry="0.4" transform="rotate(157 799.2 394.5)"/><ellipse cx="127.6" cy="462.1" rx="2.3" ry="1.1" transform="rotate(142 127.6 462.1)"/><ellipse cx="111.6" cy="310.9" rx="2.0" ry="0.7" transform="rotate(149 111.6 310.9)"/><ellipse cx="267.5" cy="312.2" rx="1.1" ry="0.7" transform="rotate(80 267.5 312.2)"/><ellipse cx="547.8" cy="447.9" rx="2.8" ry="2.2" transform="rotate(123 547.8 447.9)"/><ellipse cx="240.3" cy="400.4" rx="1.4" ry="0.5" transform="rotate(85 240.3 400.4)"/><ellipse cx="607.9" cy="322.3" rx="1.6" ry="0.8" transform="rotate(126 607.9 322.3)"/><ellipse cx="469.6" cy="437.2" rx="2.7" ry="1.4" transform="rotate(143 469.6 437.2)"/><ellipse cx="745.1" cy="298.0" rx="3.1" ry="2.1" transform="rotate(23 745.1 298.0)"/><ellipse cx="421.8" cy="440.1" rx="3.0" ry="1.6" transform="rotate(102 421.8 440.1)"/><ellipse cx="725.8" cy="485.3" rx="3.1" ry="1.7" transform="rotate(117 725.8 485.3)"/><ellipse cx="244.3" cy="465.6" rx="2.8" ry="1.8" transform="rotate(129 244.3 465.6)"/><ellipse cx="250.3" cy="512.6" rx="3.2" ry="2.5" transform="rotate(97 250.3 512.6)"/><ellipse cx="662.6" cy="359.6" rx="3.0" ry="2.2" transform="rotate(63 662.6 359.6)"/><ellipse cx="157.1" cy="391.4" rx="2.2" ry="1.5" transform="rotate(88 157.1 391.4)"/><ellipse cx="118.3" cy="488.6" rx="1.1" ry="0.8" transform="rotate(31 118.3 488.6)"/><ellipse cx="337.2" cy="483.0" rx="1.3" ry="0.5" transform="rotate(93 337.2 483.0)"/><ellipse cx="614.6" cy="496.8" rx="2.5" ry="2.0" transform="rotate(89 614.6 496.8)"/><ellipse cx="775.7" cy="297.7" rx="1.5" ry="0.9" transform="rotate(52 775.7 297.7)"/><ellipse cx="618.4" cy="443.7" rx="2.2" ry="1.6" transform="rotate(101 618.4 443.7)"/><ellipse cx="320.6" cy="375.6" rx="2.9" ry="2.2" transform="rotate(37 320.6 375.6)"/><ellipse cx="705.5" cy="530.7" rx="2.2" ry="1.3" transform="rotate(36 705.5 530.7)"/><ellipse cx="480.6" cy="407.8" rx="2.3" ry="0.8" transform="rotate(174 480.6 407.8)"/><ellipse cx="466.4" cy="380.8" rx="2.8" ry="1.7" transform="rotate(88 466.4 380.8)"/><ellipse cx="591.4" cy="292.4" rx="2.2" ry="1.2" transform="rotate(172 591.4 292.4)"/><ellipse cx="757.3" cy="346.1" rx="2.0" ry="0.8" transform="rotate(78 757.3 346.1)"/><ellipse cx="680.4" cy="512.7" rx="2.0" ry="1.0" transform="rotate(34 680.4 512.7)"/><ellipse cx="539.2" cy="519.3" rx="1.3" ry="0.9" transform="rotate(4 539.2 519.3)"/><ellipse cx="236.6" cy="335.0" rx="2.5" ry="1.2" transform="rotate(64 236.6 335.0)"/><ellipse cx="540.5" cy="302.7" rx="2.6" ry="1.1" transform="rotate(92 540.5 302.7)"/><ellipse cx="276.9" cy="327.2" rx="2.2" ry="1.2" transform="rotate(68 276.9 327.2)"/><ellipse cx="393.2" cy="414.7" rx="1.4" ry="0.6" transform="rotate(114 393.2 414.7)"/><ellipse cx="553.9" cy="414.8" rx="2.9" ry="1.8" transform="rotate(154 553.9 414.8)"/><ellipse cx="264.1" cy="470.6" rx="2.8" ry="2.1" transform="rotate(57 264.1 470.6)"/><ellipse cx="322.9" cy="518.6" rx="1.5" ry="1.2" transform="rotate(160 322.9 518.6)"/><ellipse cx="193.6" cy="338.2" rx="2.6" ry="1.2" transform="rotate(17 193.6 338.2)"/><ellipse cx="692.2" cy="386.3" rx="2.7" ry="1.1" transform="rotate(73 692.2 386.3)"/><ellipse cx="587.2" cy="279.7" rx="1.4" ry="0.9" transform="rotate(164 587.2 279.7)"/><ellipse cx="789.4" cy="305.5" rx="2.1" ry="1.5" transform="rotate(91 789.4 305.5)"/><ellipse cx="587.6" cy="324.9" rx="1.2" ry="0.5" transform="rotate(7 587.6 324.9)"/><ellipse cx="491.9" cy="410.9" rx="2.3" ry="0.9" transform="rotate(33 491.9 410.9)"/><ellipse cx="243.6" cy="496.8" rx="3.2" ry="2.4" transform="rotate(17 243.6 496.8)"/><ellipse cx="142.2" cy="526.2" rx="2.0" ry="1.4" transform="rotate(59 142.2 526.2)"/><ellipse cx="431.4" cy="411.0" rx="1.9" ry="1.2" transform="rotate(2 431.4 411.0)"/><ellipse cx="598.5" cy="497.9" rx="1.4" ry="0.8" transform="rotate(133 598.5 497.9)"/><ellipse cx="387.4" cy="326.5" rx="1.4" ry="0.8" transform="rotate(3 387.4 326.5)"/><ellipse cx="735.7" cy="486.7" rx="2.6" ry="1.9" transform="rotate(113 735.7 486.7)"/><ellipse cx="386.8" cy="433.3" rx="2.1" ry="1.7" transform="rotate(145 386.8 433.3)"/><ellipse cx="282.4" cy="515.6" rx="2.6" ry="1.8" transform="rotate(147 282.4 515.6)"/><ellipse cx="387.6" cy="511.7" rx="2.9" ry="1.9" transform="rotate(138 387.6 511.7)"/><ellipse cx="644.4" cy="382.1" rx="2.6" ry="1.0" transform="rotate(62 644.4 382.1)"/><ellipse cx="432.8" cy="277.8" rx="1.8" ry="1.1" transform="rotate(112 432.8 277.8)"/><ellipse cx="263.7" cy="524.4" rx="2.5" ry="1.2" transform="rotate(119 263.7 524.4)"/><ellipse cx="504.7" cy="415.7" rx="1.9" ry="1.5" transform="rotate(116 504.7 415.7)"/><ellipse cx="598.7" cy="476.1" rx="3.2" ry="1.1" transform="rotate(111 598.7 476.1)"/><ellipse cx="625.5" cy="342.8" rx="1.9" ry="0.7" transform="rotate(35 625.5 342.8)"/><ellipse cx="366.2" cy="301.0" rx="1.6" ry="1.2" transform="rotate(99 366.2 301.0)"/><ellipse cx="460.6" cy="530.3" rx="2.2" ry="1.8" transform="rotate(115 460.6 530.3)"/><ellipse cx="676.0" cy="295.1" rx="2.3" ry="1.6" transform="rotate(8 676.0 295.1)"/><ellipse cx="762.1" cy="317.2" rx="2.0" ry="0.9" transform="rotate(89 762.1 317.2)"/><ellipse cx="534.4" cy="290.5" rx="3.1" ry="1.7" transform="rotate(95 534.4 290.5)"/><ellipse cx="524.9" cy="371.5" rx="1.6" ry="1.1" transform="rotate(101 524.9 371.5)"/><ellipse cx="300.4" cy="464.2" rx="1.7" ry="0.6" transform="rotate(44 300.4 464.2)"/><ellipse cx="128.5" cy="316.3" rx="2.7" ry="1.4" transform="rotate(162 128.5 316.3)"/><ellipse cx="632.3" cy="288.2" rx="3.2" ry="2.5" transform="rotate(13 632.3 288.2)"/><ellipse cx="744.6" cy="388.4" rx="2.1" ry="1.6" transform="rotate(44 744.6 388.4)"/><ellipse cx="471.7" cy="522.4" rx="2.6" ry="1.5" transform="rotate(176 471.7 522.4)"/><ellipse cx="681.1" cy="434.4" rx="1.3" ry="0.8" transform="rotate(82 681.1 434.4)"/><ellipse cx="243.4" cy="288.7" rx="2.2" ry="0.9" transform="rotate(80 243.4 288.7)"/><ellipse cx="574.9" cy="395.3" rx="1.6" ry="1.0" transform="rotate(76 574.9 395.3)"/><ellipse cx="653.5" cy="415.1" rx="3.2" ry="2.5" transform="rotate(132 653.5 415.1)"/><ellipse cx="268.2" cy="305.1" rx="3.0" ry="2.1" transform="rotate(112 268.2 305.1)"/><ellipse cx="354.5" cy="346.7" rx="2.5" ry="1.5" transform="rotate(107 354.5 346.7)"/><ellipse cx="550.0" cy="473.9" rx="1.4" ry="0.7" transform="rotate(176 550.0 473.9)"/><ellipse cx="751.8" cy="507.0" rx="1.1" ry="0.4" transform="rotate(49 751.8 507.0)"/><ellipse cx="401.6" cy="439.6" rx="1.2" ry="0.7" transform="rotate(13 401.6 439.6)"/><ellipse cx="159.7" cy="453.5" rx="2.2" ry="1.4" transform="rotate(67 159.7 453.5)"/><ellipse cx="439.7" cy="330.6" rx="1.8" ry="1.2" transform="rotate(151 439.7 330.6)"/><ellipse cx="151.1" cy="306.6" rx="2.8" ry="1.8" transform="rotate(138 151.1 306.6)"/><ellipse cx="250.2" cy="387.0" rx="1.6" ry="1.1" transform="rotate(66 250.2 387.0)"/><ellipse cx="564.7" cy="536.1" rx="1.7" ry="1.0" transform="rotate(134 564.7 536.1)"/><ellipse cx="755.5" cy="387.9" rx="1.8" ry="0.7" transform="rotate(158 755.5 387.9)"/><ellipse cx="154.1" cy="296.9" rx="2.2" ry="1.3" transform="rotate(123 154.1 296.9)"/><ellipse cx="311.4" cy="479.7" rx="1.2" ry="0.5" transform="rotate(119 311.4 479.7)"/><ellipse cx="156.3" cy="355.2" rx="2.6" ry="1.7" transform="rotate(51 156.3 355.2)"/><ellipse cx="200.0" cy="369.5" rx="2.6" ry="1.3" transform="rotate(21 200.0 369.5)"/><ellipse cx="604.4" cy="425.3" rx="3.0" ry="2.3" transform="rotate(164 604.4 425.3)"/><ellipse cx="410.7" cy="487.0" rx="1.7" ry="0.8" transform="rotate(72 410.7 487.0)"/><ellipse cx="765.4" cy="511.2" rx="1.5" ry="0.8" transform="rotate(66 765.4 511.2)"/><ellipse cx="357.4" cy="379.4" rx="1.9" ry="0.8" transform="rotate(101 357.4 379.4)"/><ellipse cx="667.1" cy="417.7" rx="2.8" ry="1.7" transform="rotate(32 667.1 417.7)"/><ellipse cx="639.9" cy="507.6" rx="1.6" ry="0.6" transform="rotate(93 639.9 507.6)"/><ellipse cx="486.5" cy="424.8" rx="3.1" ry="2.0" transform="rotate(145 486.5 424.8)"/><ellipse cx="143.7" cy="419.4" rx="2.7" ry="1.1" transform="rotate(15 143.7 419.4)"/><ellipse cx="624.3" cy="512.4" rx="1.2" ry="0.8" transform="rotate(26 624.3 512.4)"/><ellipse cx="630.5" cy="446.3" rx="1.5" ry="0.7" transform="rotate(138 630.5 446.3)"/><ellipse cx="470.4" cy="476.9" rx="1.9" ry="0.9" transform="rotate(174 470.4 476.9)"/><ellipse cx="578.1" cy="405.3" rx="2.2" ry="1.5" transform="rotate(127 578.1 405.3)"/><ellipse cx="751.3" cy="383.4" rx="2.8" ry="1.8" transform="rotate(154 751.3 383.4)"/><ellipse cx="673.4" cy="495.1" rx="3.0" ry="2.3" transform="rotate(115 673.4 495.1)"/><ellipse cx="472.0" cy="462.5" rx="2.8" ry="1.5" transform="rotate(76 472.0 462.5)"/><ellipse cx="202.4" cy="470.7" rx="3.2" ry="1.7" transform="rotate(30 202.4 470.7)"/><ellipse cx="243.9" cy="387.2" rx="1.6" ry="1.3" transform="rotate(11 243.9 387.2)"/><ellipse cx="318.2" cy="305.3" rx="2.4" ry="1.7" transform="rotate(32 318.2 305.3)"/><ellipse cx="142.5" cy="396.1" rx="2.3" ry="1.7" transform="rotate(7 142.5 396.1)"/><ellipse cx="175.6" cy="323.7" rx="1.5" ry="0.7" transform="rotate(129 175.6 323.7)"/><ellipse cx="522.7" cy="334.1" rx="1.4" ry="0.7" transform="rotate(31 522.7 334.1)"/><ellipse cx="638.9" cy="357.3" rx="2.2" ry="1.6" transform="rotate(86 638.9 357.3)"/><ellipse cx="284.0" cy="509.3" rx="3.0" ry="1.5" transform="rotate(99 284.0 509.3)"/><ellipse cx="781.3" cy="402.4" rx="1.5" ry="0.6" transform="rotate(171 781.3 402.4)"/><ellipse cx="670.2" cy="376.6" rx="2.2" ry="1.3" transform="rotate(49 670.2 376.6)"/><ellipse cx="805.0" cy="448.6" rx="1.5" ry="0.5" transform="rotate(85 805.0 448.6)"/><ellipse cx="363.3" cy="485.3" rx="2.6" ry="1.6" transform="rotate(28 363.3 485.3)"/><ellipse cx="210.0" cy="360.0" rx="1.6" ry="1.2" transform="rotate(93 210.0 360.0)"/><ellipse cx="552.8" cy="537.2" rx="1.6" ry="0.9" transform="rotate(27 552.8 537.2)"/><ellipse cx="648.0" cy="275.4" rx="2.8" ry="2.1" transform="rotate(148 648.0 275.4)"/><ellipse cx="156.9" cy="346.3" rx="2.6" ry="1.0" transform="rotate(86 156.9 346.3)"/><ellipse cx="432.6" cy="527.3" rx="2.3" ry="1.7" transform="rotate(55 432.6 527.3)"/><ellipse cx="661.6" cy="385.1" rx="3.0" ry="1.2" transform="rotate(149 661.6 385.1)"/><ellipse cx="246.8" cy="418.5" rx="2.2" ry="0.9" transform="rotate(150 246.8 418.5)"/><ellipse cx="320.3" cy="357.0" rx="1.2" ry="0.6" transform="rotate(84 320.3 357.0)"/><ellipse cx="608.6" cy="370.0" rx="2.5" ry="1.0" transform="rotate(71 608.6 370.0)"/><ellipse cx="427.7" cy="530.3" rx="2.8" ry="1.8" transform="rotate(2 427.7 530.3)"/><ellipse cx="367.3" cy="462.4" rx="1.5" ry="0.9" transform="rotate(82 367.3 462.4)"/><ellipse cx="105.5" cy="536.8" rx="2.8" ry="1.2" transform="rotate(111 105.5 536.8)"/><ellipse cx="305.3" cy="374.3" rx="2.2" ry="1.1" transform="rotate(61 305.3 374.3)"/><ellipse cx="378.0" cy="451.0" rx="1.6" ry="0.7" transform="rotate(132 378.0 451.0)"/><ellipse cx="333.2" cy="524.5" rx="2.2" ry="1.5" transform="rotate(60 333.2 524.5)"/><ellipse cx="688.4" cy="299.4" rx="1.3" ry="0.5" transform="rotate(122 688.4 299.4)"/><ellipse cx="603.7" cy="322.5" rx="1.9" ry="1.4" transform="rotate(107 603.7 322.5)"/><ellipse cx="162.3" cy="334.8" rx="1.3" ry="0.5" transform="rotate(73 162.3 334.8)"/><ellipse cx="149.9" cy="518.0" rx="1.9" ry="1.1" transform="rotate(117 149.9 518.0)"/><ellipse cx="645.5" cy="491.8" rx="1.8" ry="0.9" transform="rotate(74 645.5 491.8)"/><ellipse cx="109.0" cy="380.8" rx="2.5" ry="2.0" transform="rotate(142 109.0 380.8)"/><ellipse cx="569.4" cy="435.7" rx="1.0" ry="0.5" transform="rotate(62 569.4 435.7)"/><ellipse cx="562.6" cy="303.1" rx="1.8" ry="1.1" transform="rotate(142 562.6 303.1)"/><ellipse cx="687.2" cy="436.4" rx="1.3" ry="0.9" transform="rotate(163 687.2 436.4)"/><ellipse cx="489.5" cy="368.1" rx="2.1" ry="0.9" transform="rotate(128 489.5 368.1)"/><ellipse cx="802.6" cy="411.2" rx="2.6" ry="1.9" transform="rotate(35 802.6 411.2)"/><ellipse cx="772.7" cy="440.6" rx="1.4" ry="0.6" transform="rotate(44 772.7 440.6)"/><ellipse cx="509.6" cy="459.0" rx="1.7" ry="1.3" transform="rotate(65 509.6 459.0)"/><ellipse cx="428.6" cy="307.7" rx="3.1" ry="1.3" transform="rotate(163 428.6 307.7)"/><ellipse cx="486.0" cy="423.0" rx="2.2" ry="1.0" transform="rotate(164 486.0 423.0)"/><ellipse cx="806.4" cy="490.8" rx="2.3" ry="0.9" transform="rotate(148 806.4 490.8)"/><ellipse cx="304.0" cy="511.8" rx="1.5" ry="0.9" transform="rotate(150 304.0 511.8)"/><ellipse cx="230.5" cy="419.6" rx="1.2" ry="0.4" transform="rotate(32 230.5 419.6)"/><ellipse cx="802.7" cy="523.0" rx="2.4" ry="1.2" transform="rotate(121 802.7 523.0)"/><ellipse cx="624.7" cy="375.8" rx="2.3" ry="1.6" transform="rotate(3 624.7 375.8)"/><ellipse cx="240.5" cy="398.6" rx="1.3" ry="0.7" transform="rotate(103 240.5 398.6)"/><ellipse cx="222.0" cy="412.2" rx="1.6" ry="1.0" transform="rotate(60 222.0 412.2)"/><ellipse cx="556.2" cy="285.0" rx="2.5" ry="1.0" transform="rotate(173 556.2 285.0)"/><ellipse cx="526.5" cy="399.1" rx="1.9" ry="1.2" transform="rotate(124 526.5 399.1)"/></g>
  <use href="#terrain2" fill="none" stroke="#5e3a12" stroke-width="0.7" stroke-opacity="0.7"/>
</g><g transform="translate(190.6,0)"><path d="M0,811.5 L-6,811.5 M-7,808.5 L-7,815.5" stroke="#8a8a8a" stroke-width="1.6" fill="none"/><polygon points="31.4,798.9 34.4,779.4 39.9,779.4 41.4,798.9" fill="#ececec" stroke="#8a8a8a" stroke-width="0.6"/><line x1="33" y1="789" x2="40.6" y2="789" stroke="#9a9a9a" stroke-width="0.5"/><rect x="33.2" y="777.2" width="7.6" height="2.2" fill="#b0b0b0" stroke="#7a7a7a" stroke-width="0.4"/><line x1="51.4" y1="780.4" x2="51.4" y2="788.1" stroke="#8a8a8a" stroke-width="1"/><line x1="60.9" y1="780.4" x2="60.9" y2="788.1" stroke="#8a8a8a" stroke-width="1"/><polygon points="37.6,788.1 63.7,788.1 71.4,799 37.6,799" fill="#a8a8a8" stroke="#6f6f6f" stroke-width="0.6"/><rect x="39.1" y="792.7" width="13.8" height="4.6" fill="#6c6c6c"/><rect x="56" y="792.7" width="6.9" height="4.6" fill="#6c6c6c"/><polygon points="64.5,792.2 67.2,792.2 70,797.3 64.5,797.3" fill="#6c6c6c"/><path d="M0,798.6 L119.7,798.6 L119.7,801 C111,807 96,813.8 80,813.8 L0,813.8 Z" fill="#a6a6a6" stroke="#727272" stroke-width="0.7"/><line x1="0" y1="799.6" x2="119.5" y2="799.6" stroke="#c9c9c9" stroke-width="1"/><line x1="74.9" y1="799" x2="74.9" y2="813.8" stroke="#727272" stroke-width="0.6"/></g><path d="M230.0,813.8 L240.8,813.8 A5.4,5 0 0 1 230.0,813.8 Z" fill="#151515"/><text x="182.6" y="788.2" font-size="8.6" font-weight="bold" fill="#1c1c1c" letter-spacing="0.55">水上浮标</text><line x1="182.6" y1="791" x2="220.1" y2="791" stroke="#222" stroke-width="1.6"/><polygon points="219.1,788.7 223.1,791 219.1,793.3" fill="#222"/><line x1="185.6" y1="816.6" x2="226.6" y2="816.6" stroke="#222" stroke-width="1.6"/><polygon points="225.6,814.3000000000001 229.6,816.6 225.6,818.9" fill="#222"/><text x="191.4" y="827.5" font-size="8.6" font-weight="bold" fill="#1c1c1c" letter-spacing="0.55">传感器</text><g transform="translate(314.7,0)"><path d="M0,811.5 L-6,811.5 M-7,808.5 L-7,815.5" stroke="#8a8a8a" stroke-width="1.6" fill="none"/><polygon points="31.4,798.9 34.4,779.4 39.9,779.4 41.4,798.9" fill="#ececec" stroke="#8a8a8a" stroke-width="0.6"/><line x1="33" y1="789" x2="40.6" y2="789" stroke="#9a9a9a" stroke-width="0.5"/><rect x="33.2" y="777.2" width="7.6" height="2.2" fill="#b0b0b0" stroke="#7a7a7a" stroke-width="0.4"/><line x1="51.4" y1="780.4" x2="51.4" y2="788.1" stroke="#8a8a8a" stroke-width="1"/><line x1="60.9" y1="780.4" x2="60.9" y2="788.1" stroke="#8a8a8a" stroke-width="1"/><polygon points="37.6,788.1 63.7,788.1 71.4,799 37.6,799" fill="#a8a8a8" stroke="#6f6f6f" stroke-width="0.6"/><rect x="39.1" y="792.7" width="13.8" height="4.6" fill="#6c6c6c"/><rect x="56" y="792.7" width="6.9" height="4.6" fill="#6c6c6c"/><polygon points="64.5,792.2 67.2,792.2 70,797.3 64.5,797.3" fill="#6c6c6c"/><path d="M0,798.6 L119.7,798.6 L119.7,801 C111,807 96,813.8 80,813.8 L0,813.8 Z" fill="#a6a6a6" stroke="#727272" stroke-width="0.7"/><line x1="0" y1="799.6" x2="119.5" y2="799.6" stroke="#c9c9c9" stroke-width="1"/><line x1="74.9" y1="799" x2="74.9" y2="813.8" stroke="#727272" stroke-width="0.6"/></g><path d="M363.6,813.8 L374.4,813.8 A5.4,5 0 0 1 363.6,813.8 Z" fill="#151515"/><text x="306.7" y="788.2" font-size="8.6" font-weight="bold" fill="#1c1c1c" letter-spacing="0.55">水上浮标</text><line x1="306.7" y1="791" x2="344.2" y2="791" stroke="#222" stroke-width="1.6"/><polygon points="343.2,788.7 347.2,791 343.2,793.3" fill="#222"/><line x1="318" y1="816.6" x2="360.2" y2="816.6" stroke="#222" stroke-width="1.6"/><polygon points="359.2,814.3000000000001 363.2,816.6 359.2,818.9" fill="#222"/><text x="322" y="827.5" font-size="8.6" font-weight="bold" fill="#1c1c1c" letter-spacing="0.55">传感器</text><g transform="translate(464.7,0)"><path d="M0,811.5 L-6,811.5 M-7,808.5 L-7,815.5" stroke="#8a8a8a" stroke-width="1.6" fill="none"/><polygon points="31.4,798.9 34.4,779.4 39.9,779.4 41.4,798.9" fill="#ececec" stroke="#8a8a8a" stroke-width="0.6"/><line x1="33" y1="789" x2="40.6" y2="789" stroke="#9a9a9a" stroke-width="0.5"/><rect x="33.2" y="777.2" width="7.6" height="2.2" fill="#b0b0b0" stroke="#7a7a7a" stroke-width="0.4"/><line x1="51.4" y1="780.4" x2="51.4" y2="788.1" stroke="#8a8a8a" stroke-width="1"/><line x1="60.9" y1="780.4" x2="60.9" y2="788.1" stroke="#8a8a8a" stroke-width="1"/><polygon points="37.6,788.1 63.7,788.1 71.4,799 37.6,799" fill="#a8a8a8" stroke="#6f6f6f" stroke-width="0.6"/><rect x="39.1" y="792.7" width="13.8" height="4.6" fill="#6c6c6c"/><rect x="56" y="792.7" width="6.9" height="4.6" fill="#6c6c6c"/><polygon points="64.5,792.2 67.2,792.2 70,797.3 64.5,797.3" fill="#6c6c6c"/><path d="M0,798.6 L119.7,798.6 L119.7,801 C111,807 96,813.8 80,813.8 L0,813.8 Z" fill="#a6a6a6" stroke="#727272" stroke-width="0.7"/><line x1="0" y1="799.6" x2="119.5" y2="799.6" stroke="#c9c9c9" stroke-width="1"/><line x1="74.9" y1="799" x2="74.9" y2="813.8" stroke="#727272" stroke-width="0.6"/></g><path d="M510.30000000000007,813.8 L521.1,813.8 A5.4,5 0 0 1 510.30000000000007,813.8 Z" fill="#151515"/><text x="456.7" y="788.2" font-size="8.6" font-weight="bold" fill="#1c1c1c" letter-spacing="0.55">水上浮标</text><line x1="456.7" y1="791" x2="494.2" y2="791" stroke="#222" stroke-width="1.6"/><polygon points="493.2,788.7 497.2,791 493.2,793.3" fill="#222"/><line x1="464.7" y1="816.6" x2="506.90000000000003" y2="816.6" stroke="#222" stroke-width="1.6"/><polygon points="505.90000000000003,814.3000000000001 509.90000000000003,816.6 505.90000000000003,818.9" fill="#222"/><text x="469.6" y="827.5" font-size="8.6" font-weight="bold" fill="#1c1c1c" letter-spacing="0.55">传感器</text><g transform="translate(614.7,0)"><path d="M0,811.5 L-6,811.5 M-7,808.5 L-7,815.5" stroke="#8a8a8a" stroke-width="1.6" fill="none"/><polygon points="31.4,798.9 34.4,779.4 39.9,779.4 41.4,798.9" fill="#ececec" stroke="#8a8a8a" stroke-width="0.6"/><line x1="33" y1="789" x2="40.6" y2="789" stroke="#9a9a9a" stroke-width="0.5"/><rect x="33.2" y="777.2" width="7.6" height="2.2" fill="#b0b0b0" stroke="#7a7a7a" stroke-width="0.4"/><line x1="51.4" y1="780.4" x2="51.4" y2="788.1" stroke="#8a8a8a" stroke-width="1"/><line x1="60.9" y1="780.4" x2="60.9" y2="788.1" stroke="#8a8a8a" stroke-width="1"/><polygon points="37.6,788.1 63.7,788.1 71.4,799 37.6,799" fill="#a8a8a8" stroke="#6f6f6f" stroke-width="0.6"/><rect x="39.1" y="792.7" width="13.8" height="4.6" fill="#6c6c6c"/><rect x="56" y="792.7" width="6.9" height="4.6" fill="#6c6c6c"/><polygon points="64.5,792.2 67.2,792.2 70,797.3 64.5,797.3" fill="#6c6c6c"/><path d="M0,798.6 L119.7,798.6 L119.7,801 C111,807 96,813.8 80,813.8 L0,813.8 Z" fill="#a6a6a6" stroke="#727272" stroke-width="0.7"/><line x1="0" y1="799.6" x2="119.5" y2="799.6" stroke="#c9c9c9" stroke-width="1"/><line x1="74.9" y1="799" x2="74.9" y2="813.8" stroke="#727272" stroke-width="0.6"/></g><path d="M661.9,813.8 L672.6999999999999,813.8 A5.4,5 0 0 1 661.9,813.8 Z" fill="#151515"/><text x="606.7" y="788.2" font-size="8.6" font-weight="bold" fill="#1c1c1c" letter-spacing="0.55">水上浮标</text><line x1="606.7" y1="791" x2="644.2" y2="791" stroke="#222" stroke-width="1.6"/><polygon points="643.2,788.7 647.2,791 643.2,793.3" fill="#222"/><line x1="616.3" y1="816.6" x2="658.5" y2="816.6" stroke="#222" stroke-width="1.6"/><polygon points="657.5,814.3000000000001 661.5,816.6 657.5,818.9" fill="#222"/><text x="625.4" y="827.5" font-size="8.6" font-weight="bold" fill="#1c1c1c" letter-spacing="0.55">传感器</text><text x="239" y="829" font-size="8.6" font-weight="bold" fill="#24313b" letter-spacing="0.55">最大测深3m</text><text x="310.6" y="837.2" font-size="8.6" font-weight="bold" fill="#24313b" letter-spacing="0.55">最大测深8m</text><text x="455" y="914" font-size="8.6" font-weight="bold" fill="#24313b" letter-spacing="0.55">最大测深50m</text><text x="602.4" y="857.5" font-size="8.6" font-weight="bold" fill="#24313b" letter-spacing="0.55">最大测深20m</text>
</svg>
</body>
</html>
